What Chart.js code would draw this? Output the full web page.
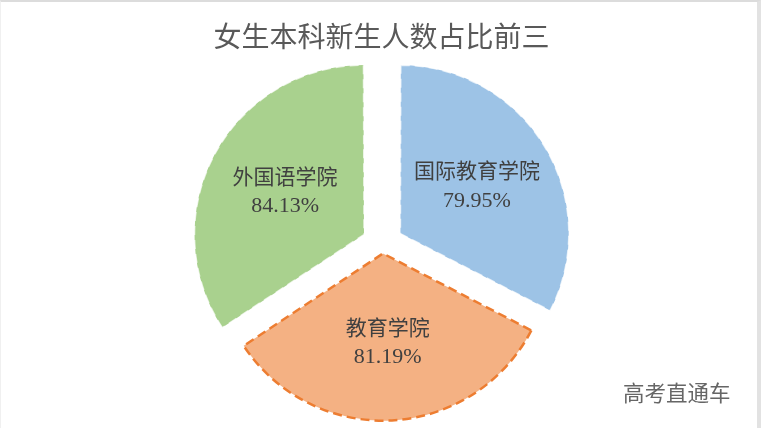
<!DOCTYPE html>
<html lang="zh-CN">
<head>
<meta charset="utf-8">
<title>女生本科新生人数占比前三</title>
<script src="https://cdn.jsdelivr.net/npm/chart.js@4.4.1/dist/chart.umd.min.js"></script>
<style>
    html, body { margin: 0; padding: 0; background: #fff; }
    #frame {
        position: relative;
        width: 761px;
        height: 428px;
        box-sizing: border-box;
        border-top: 2px solid #dcdcdc;
        border-right: 4px solid #e2e2e2;
        border-left: 1px solid #f0f0f0;
        overflow: hidden;
    }
    #chartBox { position: absolute; left: -1px; top: -2px; width: 761px; height: 428px; }
    #title {
        position: absolute; left: 0; top: 14px; width: 761px; text-align: center;
        font-family: "Noto Sans CJK SC", sans-serif; font-size: 28px; color: #595959;
        line-height: 38px;
    }
    #mark {
        position: absolute; left: 622px; top: 374px;
        font-family: "Noto Sans CJK SC", sans-serif; font-size: 21.5px; color: #666;
    }
</style>
</head>
<body>
<div id="frame">
    <div id="chartBox"><canvas id="pieChart" width="761" height="428"></canvas></div>
    <div id="title">女生本科新生人数占比前三</div>
    <div id="mark">高考直通车</div>
</div>
<script>
// --- data (clockwise from 12 o'clock) ---
const colleges = ['国际教育学院', '教育学院', '外国语学院'];
const femaleShare = [79.95, 81.19, 84.13];

// --- styles ---
const sliceColors = ['#9DC3E6', '#F4B183', '#A9D18E'];
const sliceBorders = ['rgba(255,255,255,0.7)', '#ED7D31', 'rgba(255,255,255,0.7)'];
// Chart.js moves an arc by offset / 4 px
const sliceOffsets = [84, 36, 84];

// draws the name + percentage inside each slice
const sliceLabels = {
    id: 'sliceLabels',
    afterDatasetsDraw(chart) {
        const ctx = chart.ctx;
        const meta = chart.getDatasetMeta(0);
        ctx.save();
        ctx.fillStyle = '#404040';
        ctx.textAlign = 'center';
        ctx.textBaseline = 'middle';
        meta.data.forEach((arc, i) => {
            const mid = (arc.startAngle + arc.endAngle) / 2;
            const dist = arc.options.offset / 4 + arc.outerRadius * 0.54;
            const x = arc.x + Math.cos(mid) * dist;
            const y = arc.y + Math.sin(mid) * dist;
            ctx.font = '21px "Liberation Serif", "Noto Sans CJK SC", serif';
            ctx.fillText(chart.data.labels[i], x, y - 14);
            ctx.font = '22px "Liberation Serif", serif';
            ctx.fillText(femaleShare[i].toFixed(2) + '%', x, y + 14);
        });
        ctx.restore();
    }
};

new Chart(document.getElementById('pieChart').getContext('2d'), {
    type: 'pie',
    data: {
        labels: colleges,
        datasets: [{
            data: femaleShare,
            backgroundColor: sliceColors,
            borderColor: sliceBorders,
            borderWidth: [1.5, 2.5, 1.5],
            borderDash: [9, 5],
            offset: sliceOffsets,
            hoverOffset: 0,
            clip: false
        }]
    },
    options: {
        responsive: false,
        animation: false,
        radius: 166,
        layout: { padding: { top: 61, bottom: 0, left: 4, right: 0 } },
        plugins: {
            legend: { display: false },
            tooltip: { enabled: false },
            title: { display: false }
        }
    },
    plugins: [sliceLabels]
});
</script>
</body>
</html>
